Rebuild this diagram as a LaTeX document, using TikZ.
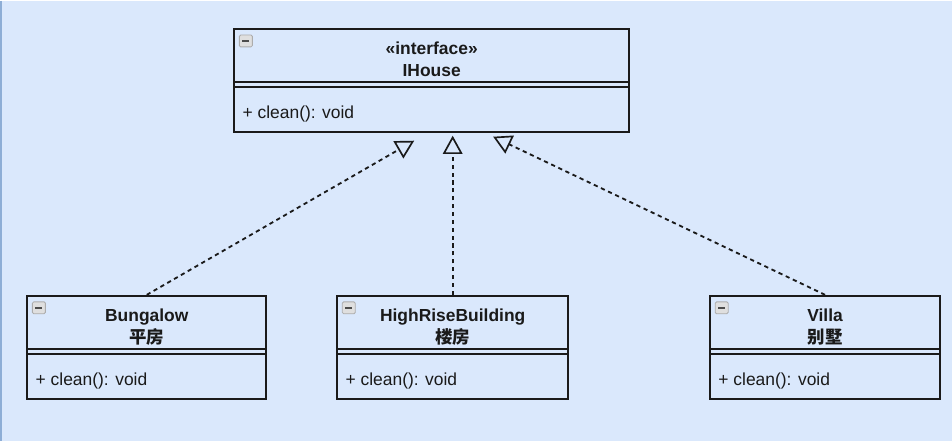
\documentclass[tikz,border=0pt]{standalone}
\usepackage{fontspec}
\setmainfont{Liberation Sans}
\newfontfamily\cjk{Noto Sans CJK SC}
\usepackage{tikz}
\usetikzlibrary{arrows.meta,calc}
\definecolor{bgblue}{HTML}{DAE8FC}
\definecolor{edgeblue}{HTML}{8EAED6}
\definecolor{ink}{HTML}{1A1A1A}

\begin{document}
\begin{tikzpicture}[x=0.025cm,y=-0.025cm,
    classbox/.style={draw=ink,line width=1.3pt,minimum height=103*0.025cm,inner sep=0pt},
    title/.style={font=\fontsize{12.4}{15.5}\selectfont\bfseries,align=center,text=ink},
    member/.style={font=\fontsize{12.4}{15}\selectfont,anchor=west,text=ink,inner sep=0pt},
    realize/.style={ink,line width=1.3pt,dash pattern=on 3pt off 2.6pt,
        -{Triangle[open,length=13pt,width=14pt,line width=1.2pt]}}]
        % Background
        \fill[bgblue] (0,0) rectangle (952,440);
        \draw[edgeblue,line width=1.2pt] (0.5,0) -- (0.5,440);
        \useasboundingbox (0,0) rectangle (952,440);

        % Interface
        \node[classbox,minimum width=395*0.025cm] (ihouse) at (431.5,79.5) {};
        \node[title] (ihouse-title) at ($(ihouse.north)+(0,31)$) {«interface»\\IHouse};

        % Implementations
        \node[classbox,minimum width=239*0.025cm] (bungalow) at (146.5,346.5) {};
        \node[title] (bungalow-title) at ($(bungalow.north)+(0,32.5)$) {Bungalow\\{\cjk 平房}};
        \node[classbox,minimum width=231*0.025cm] (highrise) at (452.5,346.5) {};
        \node[title] (highrise-title) at ($(highrise.north)+(0,32.5)$) {HighRiseBuilding\\{\cjk 楼房}};
        \node[classbox,minimum width=230*0.025cm] (villa) at (825,346.5) {};
        \node[title] (villa-title) at ($(villa.north)+(0,32.5)$) {Villa\\{\cjk 别墅}};

        % Separators, collapse icons and methods
        \foreach \c in {ihouse,bungalow,highrise,villa} {
            \draw[ink,line width=1.2pt] ($(\c.north west)+(0,54)$) -- ($(\c.north east)+(0,54)$);
            \draw[ink,line width=1.2pt] ($(\c.north west)+(0,59)$) -- ($(\c.north east)+(0,59)$);
            \draw[gray!65,fill=gray!25,line width=0.6pt,rounded corners=1pt]
                ($(\c.north west)+(6,7)$) rectangle +(13,12);
            \draw[black!70,line width=1.1pt] ($(\c.north west)+(9,13)$) -- +(7,0);
            \node[member] (\c-method) at ($(\c.north west)+(9,86)$) {+ clean(): void};
        }

        % Realizations
        \draw[realize] (bungalow.north) -- ($(ihouse.south)+(-17.5,8)$);
        \draw[realize] (highrise.north) -- ($(ihouse.south)+(21,3)$);
        \draw[realize] (villa.north) -- ($(ihouse.south)+(61.5,4)$);
    \end{tikzpicture}
\end{document}
